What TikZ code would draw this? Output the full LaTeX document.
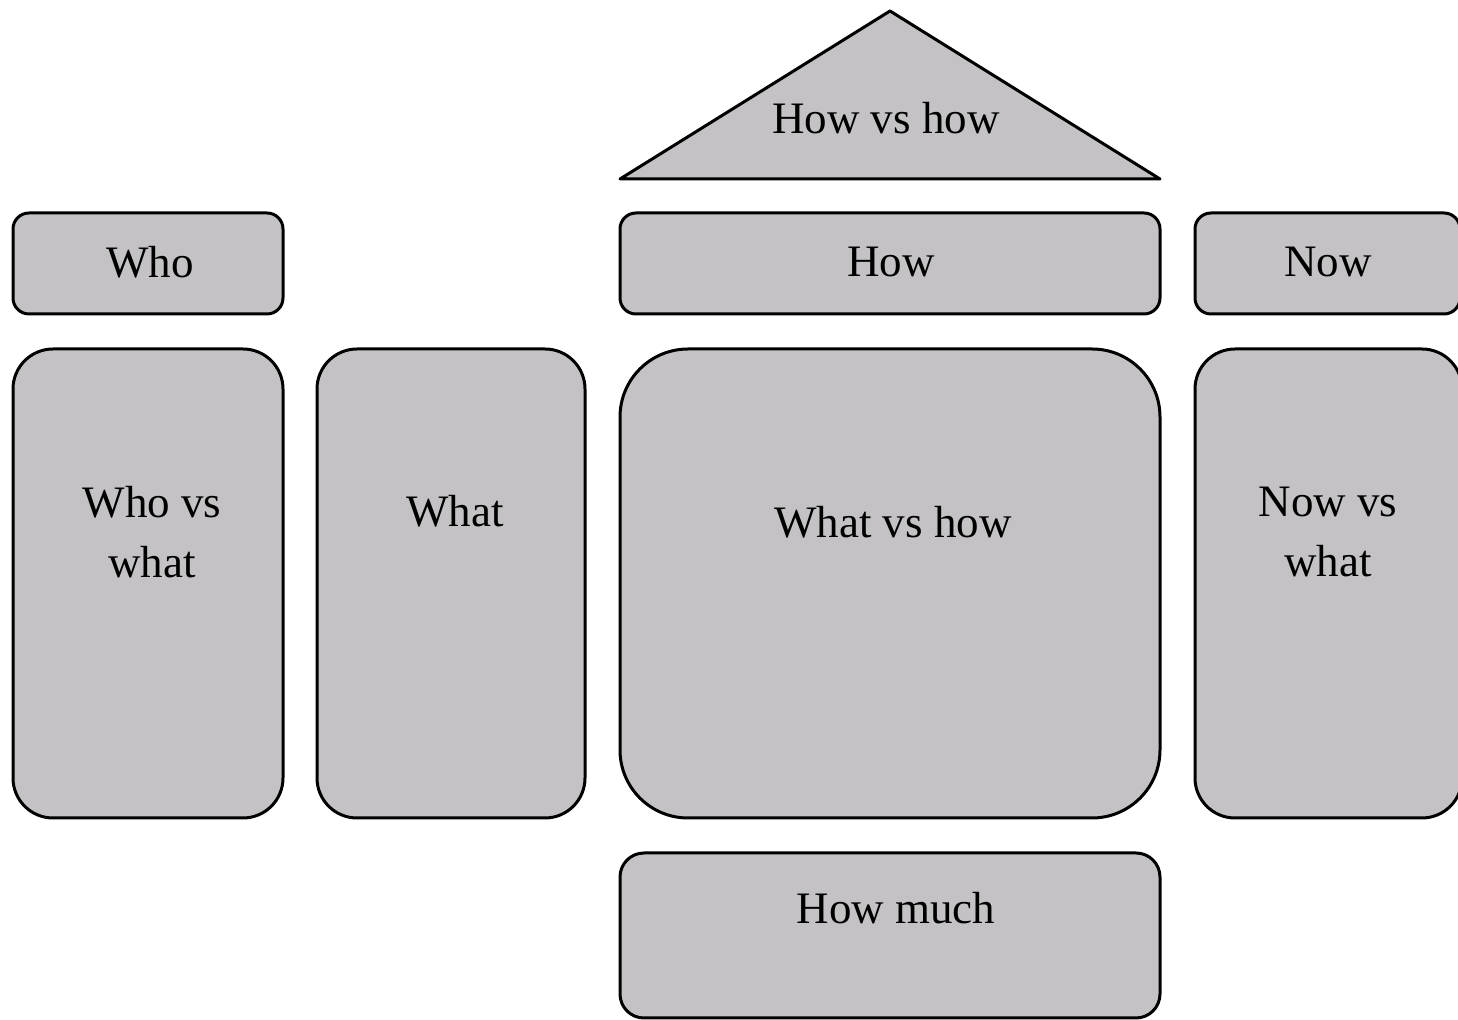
\documentclass[tikz,border=0pt]{standalone}
\usepackage{fontspec}
\setmainfont{Liberation Serif}
\definecolor{boxfill}{RGB}{196,194,197}
\begin{document}
\begin{tikzpicture}[x=0.5pt,y=-0.5pt,
  panel/.style={draw=black, fill=boxfill, line width=1.5pt, line join=round},
  lbl/.style={inner sep=0pt, align=center, font=\fontsize{22.5}{30}\selectfont},
]
\useasboundingbox (0,0) rectangle (1458,1020);

% roof
\draw[panel] (620,179) -- (890,11) -- (1160,179) -- cycle;
\node[lbl] (howvshow) at (886,118) {How vs how};

% top row
\draw[panel, rounded corners=8pt] (13,213) rectangle (283,314);
\node[lbl] (who) at (150,262) {Who};
\draw[panel, rounded corners=8pt] (620,213) rectangle (1160,314);
\node[lbl] (how) at (891,262) {How};
\draw[panel, rounded corners=8pt] (1195,213) rectangle (1460,314);
\node[lbl] (now) at (1328,262) {Now};

% pillars
\draw[panel, rounded corners=20pt] (13,349) rectangle (283,818);
\node[lbl] (whovswhat) at (152,532) {Who vs\\what};
\draw[panel, rounded corners=20pt] (317,349) rectangle (585,818);
\node[lbl] (what) at (455,511) {What};
\draw[panel, rounded corners=34pt] (620,349) rectangle (1160,818);
\node[lbl] (whatvshow) at (893,522) {What vs how};
\draw[panel, rounded corners=20pt] (1195,349) rectangle (1462,818);
\node[lbl] (nowvswhat) at (1328,532) {Now vs\\what};

% base
\draw[panel, rounded corners=12pt] (620,853) rectangle (1160,1018);
\node[lbl] (howmuch) at (896,908) {How much};
\end{tikzpicture}
\end{document}
